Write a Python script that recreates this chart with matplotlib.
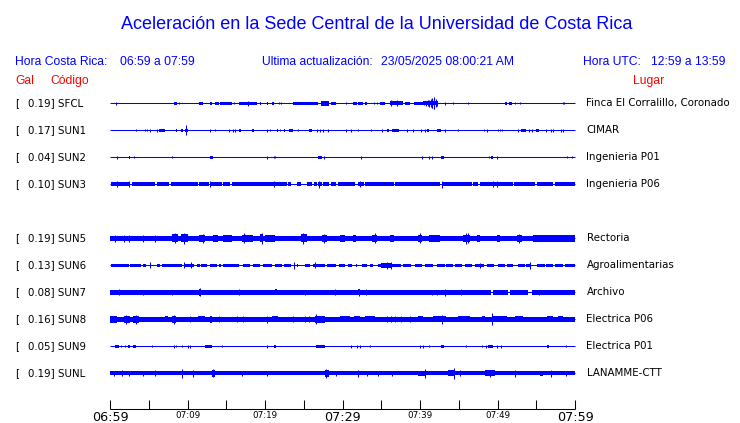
import matplotlib
matplotlib.use("Agg")
import matplotlib.pyplot as plt

W, H = 740, 423
BLUE = "#0000ff"

# window: 06:59 to 07:59 (minutes from start)
tick_minutes = list(range(0, 61, 5))
tick_labels = {0: "06:59", 10: "07:09", 20: "07:19", 30: "07:29",
               40: "07:39", 50: "07:49", 60: "07:59"}
big_labels = ["06:59", "07:29", "07:59"]

codes = ["SFCL", "SUN1", "SUN2", "SUN3", None, "SUN5", "SUN6", "SUN7", "SUN8", "SUN9", "SUNL"]
gal = [0.19, 0.17, 0.04, 0.10, None, 0.19, 0.13, 0.08, 0.16, 0.05, 0.19]
places = ["Finca El Corralillo, Coronado", "CIMAR", "Ingenieria P01", "Ingenieria P06", None,
          "Rectoria", "Agroalimentarias", "Archivo", "Electrica P06", "Electrica P01", "LANAMME-CTT"]

# activity: segments (t0, t1, half-amplitude px), spikes (t, half-amplitude px)
sfcl_segs = [(8.3, 8.6, 1.5), (11.5, 12.0, 1.5), (12.9, 13.1, 1.5), (13.5, 14.1, 1.5), (14.2, 15.7, 1.5),
             (16.6, 19.0, 1.5), (19.3, 19.45, 1.5), (20.2, 20.4, 1.5), (20.9, 21.1, 1.5), (23.6, 26.8, 1.5),
             (27.2, 28.3, 2.5), (28.5, 29.2, 1.5), (31.4, 31.9, 1.5), (32.0, 32.6, 1.2), (32.9, 33.2, 1.5),
             (34.9, 35.5, 1.5), (36.1, 37.8, 2.0), (38.1, 38.7, 1.5), (39.2, 40.4, 1.5), (40.4, 42.3, 2.0),
             (51.0, 51.2, 1.5), (51.5, 51.9, 1.5)]
sfcl_spikes = [(0.73, 1.5), (8.9, 1.0), (16.0, 1.0), (17.8, 2.5), (21.8, 1.0), (22.1, 1.0), (30.5, 1.0),
               (34.0, 1.0), (34.4, 1.0), (36.3, 3.0), (37.0, 3.0), (40.5, 2.0), (40.8, 2.5), (41.0, 3.0),
               (41.2, 3.5), (41.4, 4.0), (41.5, 4.5), (41.6, 5.0), (41.75, 6.0), (41.85, 5.5), (42.0, 4.0),
               (42.2, 2.5), (43.2, 1.5), (44.3, 1.0), (46.2, 1.0), (52.3, 1.0), (52.9, 1.0), (58.4, 1.0),
               (58.6, 1.0)]

sun1_segs = [(6.3, 7.1, 1.5), (8.5, 8.7, 1.5), (9.2, 9.4, 1.5), (9.7, 10.1, 1.5), (16.6, 16.9, 1.5),
             (18.3, 18.6, 1.5), (21.5, 21.7, 1.5), (22.4, 22.6, 1.5), (23.1, 23.6, 1.5), (25.7, 26.1, 1.5),
             (35.7, 36.0, 1.5), (36.4, 37.3, 1.5), (40.9, 41.2, 1.5), (42.2, 42.7, 1.5), (53.0, 53.7, 1.5),
             (55.0, 55.4, 1.5)]
sun1_spikes = [(3.35, 1), (4.5, 1), (4.8, 1), (5.2, 1.5), (6.0, 1.5), (9.85, 5), (12.9, 1.5), (13.6, 1),
               (15.3, 1.5), (15.9, 1.5), (16.1, 1.5), (20.2, 1.5), (20.7, 1), (21.9, 1), (24.2, 1),
               (26.7, 1.5), (27.1, 1.5), (27.5, 1.5), (28.1, 1.5), (30.5, 1.5), (31.05, 1.5), (32.0, 1),
               (33.7, 1), (35.1, 1.5), (38.3, 1.5), (39.1, 1.5), (40.1, 1.5), (40.6, 1.5), (43.2, 1.5),
               (44.9, 1), (48.2, 1), (48.7, 1.5), (50.0, 1), (50.3, 1), (50.6, 1), (52.7, 1.5), (54.0, 1.5),
               (54.4, 1.5), (56.3, 1.5), (56.9, 1.5), (57.2, 1.5), (58.2, 1.5), (58.4, 1.5)]

sun2_segs = [(2.4, 2.55, 1.5), (12.9, 13.25, 1.5), (26.9, 27.4, 1.5), (42.7, 43.1, 1.5), (49.2, 49.4, 1.5)]
sun2_spikes = [(0.95, 1.5), (3.1, 1), (8.0, 1), (20.3, 1.5), (21.1, 1), (21.3, 1), (27.6, 1.5), (32.35, 1.5),
               (40.3, 1.5), (41.2, 1.5), (41.5, 1.5), (48.95, 1), (49.9, 1.5), (59.0, 1), (59.6, 1)]

sun3_segs = [(0.1, 2.6, 2.0), (2.8, 5.8, 2.0), (6.0, 7.6, 2.0), (7.9, 11.3, 2.0), (11.5, 12.8, 2.0),
             (13.0, 14.5, 2.0), (14.6, 15.5, 2.0), (15.7, 22.8, 2.0), (23.0, 23.4, 2.0), (24.1, 24.7, 2.0),
             (25.4, 26.0, 2.0), (26.3, 26.7, 2.0), (26.9, 27.3, 2.0), (27.5, 28.2, 2.0), (28.5, 29.1, 2.0),
             (29.4, 31.6, 2.0), (32.0, 32.8, 2.0), (32.9, 36.6, 2.0), (36.8, 42.6, 2.0), (43.0, 46.7, 2.0),
             (46.9, 47.5, 2.0), (47.7, 52.0, 2.0), (52.1, 54.8, 2.0), (55.1, 57.2, 2.0), (57.4, 60.0, 2.0)]
sun3_spikes = [(0.9, 3), (2.4, 3), (12.95, 3), (21.1, 3), (27.0, 3.5), (32.3, 3), (42.8, 3.5), (49.4, 3),
               (49.9, 3)]

sun5_segs = [(0, 60, 2.6), (8.0, 8.8, 4.0), (9.2, 10.1, 4.0), (11.5, 12.3, 3.5), (13.3, 14.0, 3.5),
             (14.6, 15.7, 3.5), (17.0, 18.5, 3.5), (19.4, 19.8, 4.0), (20.0, 21.3, 3.5), (24.7, 25.4, 4.0),
             (27.3, 27.95, 3.5), (29.7, 30.3, 3.5), (31.4, 31.8, 3.5), (33.8, 34.4, 3.5), (36.1, 36.6, 3.5),
             (39.8, 40.2, 3.5), (41.2, 42.6, 3.5), (45.6, 46.5, 3.5), (47.4, 47.8, 3.5), (49.9, 50.3, 3.5),
             (52.5, 53.1, 3.5), (54.6, 60, 3.2)]
sun5_spikes = [(0.7, 3.5), (1.8, 3.5), (2.4, 3.5), (4.3, 3.5), (5.8, 3.5), (8.4, 5), (9.6, 5.5), (12.0, 4.5),
               (17.3, 5), (19.6, 5.5), (24.9, 5.5), (27.6, 4.5), (34.2, 5), (40.0, 5), (45.9, 5.5),
               (46.2, 5), (52.8, 4.5)]

sun6_segs = [(0.1, 2.4, 1.8), (2.6, 4.0, 1.8), (4.3, 4.7, 1.8), (6.0, 6.5, 1.8), (6.7, 9.25, 1.8),
             (9.6, 10.8, 1.8), (11.2, 11.6, 1.8), (11.8, 12.5, 1.8), (12.9, 13.8, 1.8), (14.1, 14.3, 1.8),
             (14.6, 16.6, 1.8), (17.2, 18.1, 1.8), (18.5, 19.35, 1.8), (19.8, 20.9, 1.8), (21.3, 22.2, 1.8),
             (22.4, 23.4, 1.8), (24.1, 24.3, 1.8), (25.2, 25.8, 1.8), (26.2, 27.7, 1.8), (28.0, 29.2, 1.8),
             (29.5, 30.3, 1.8), (30.75, 31.2, 1.8), (31.7, 31.9, 1.8), (32.5, 33.1, 1.8), (33.6, 33.9, 1.8),
             (34.6, 35.3, 1.8), (35.0, 36.3, 2.5), (35.6, 37.5, 1.8), (37.85, 38.9, 1.8), (39.35, 40.2, 1.8),
             (40.6, 41.7, 1.8), (42.15, 43.2, 1.8), (43.4, 44.3, 1.8), (44.5, 45.4, 1.8), (45.8, 46.7, 1.8),
             (47.1, 48.2, 1.8), (48.6, 49.5, 1.8), (50.1, 51.0, 1.8), (51.2, 52.0, 1.8), (52.7, 53.5, 1.8),
             (53.7, 54.3, 1.8), (55.05, 56.1, 1.8), (56.3, 57.2, 1.8), (57.4, 58.5, 1.8), (58.7, 60.0, 1.8)]
sun6_spikes = [(5.2, 3), (9.6, 3), (10.4, 3), (23.7, 3.5), (26.5, 3), (35.7, 3.5), (36.2, 3.5), (47.7, 2.5),
               (54.2, 3.5)]

sun7_segs = [(0, 49.1, 2.1), (49.4, 51.4, 2.1), (51.6, 53.9, 2.1), (54.5, 60, 2.1), (11.5, 11.8, 3.5),
             (21.3, 21.5, 3.0), (32.0, 32.3, 3.0)]
sun7_spikes = [(1.2, 3), (4.2, 2.5), (8.0, 2.5), (11.6, 4), (16.65, 3), (25.1, 2.5), (29.0, 3), (32.1, 3.5),
               (33.0, 3), (41.6, 2.5), (42.15, 2.5), (43.2, 3.5), (45.25, 3), (55.4, 2.5)]

sun8_segs = [(0, 60, 2.1), (0, 0.85, 3.5), (1.8, 2.6, 3.5), (3.0, 3.8, 3.5), (7.1, 7.5, 3), (7.95, 8.5, 3.5),
             (11.4, 12.3, 3), (12.9, 13.2, 3.5), (20.9, 21.7, 3), (26.45, 27.7, 3.5), (28.4, 30.3, 2.5),
             (29.7, 31.0, 3), (31.5, 32.3, 3), (32.9, 34.2, 3), (39.8, 40.4, 3), (41.7, 43.4, 3),
             (44.9, 46.4, 3), (48.0, 48.4, 3), (49.25, 51.2, 3), (52.3, 53.3, 3), (56.35, 57.2, 3),
             (57.85, 58.5, 3)]
sun8_spikes = [(2.1, 4.5), (3.4, 4.5), (8.2, 4.5), (10.3, 3), (14.0, 3), (16.4, 3), (17.2, 3), (20.2, 3.5),
               (23.65, 3), (25.1, 3), (25.7, 3), (26.6, 5), (35.7, 3), (36.3, 3), (36.8, 3), (37.6, 3),
               (38.7, 3), (42.8, 4.5), (49.3, 6)]

sun9_segs = [(0.7, 1.1, 1.5), (2.3, 2.6, 1.5), (3.0, 3.4, 1.5), (12.2, 13.2, 1.5), (21.1, 21.4, 1.2),
             (26.6, 27.7, 1.5), (42.7, 43.1, 1.5), (48.8, 49.45, 1.5), (56.35, 56.7, 1.5)]
sun9_spikes = [(1.4, 1), (1.9, 1), (5.4, 1), (8.2, 1.5), (8.5, 1), (9.25, 1), (10.0, 1.5), (10.3, 1.5),
               (14.4, 1), (20.3, 1.5), (31.05, 1.5), (31.9, 1.5), (32.3, 1.5), (33.5, 1), (40.0, 1.5),
               (40.35, 1.5), (41.2, 1), (45.9, 1), (47.95, 1), (48.5, 1.5), (49.9, 1.5), (50.5, 1.5),
               (58.9, 1)]

sunl_segs = [(0, 60, 2.0), (13.1, 13.55, 3.5), (27.75, 28.2, 3.5), (39.8, 40.65, 2.5), (43.65, 44.5, 3),
             (48.4, 49.7, 3), (55.5, 55.9, 2.5)]
sunl_spikes = [(0.5, 2.5), (1.5, 3), (2.4, 2.5), (4.3, 2.5), (5.8, 3), (9.3, 4.5), (10.75, 3.5), (13.3, 4),
               (17.0, 2.5), (20.2, 2.5), (27.9, 4.5), (29.2, 2.5), (32.0, 3.5), (33.1, 2.5), (34.6, 2.5),
               (36.35, 2.5), (40.6, 4.5), (44.4, 5.5), (45.2, 3), (49.0, 3.5), (52.3, 3.5), (56.9, 3.5),
               (58.9, 2.5)]

activity = {
    "SFCL": (sfcl_segs, sfcl_spikes), "SUN1": (sun1_segs, sun1_spikes), "SUN2": (sun2_segs, sun2_spikes),
    "SUN3": (sun3_segs, sun3_spikes), "SUN5": (sun5_segs, sun5_spikes), "SUN6": (sun6_segs, sun6_spikes),
    "SUN7": (sun7_segs, sun7_spikes), "SUN8": (sun8_segs, sun8_spikes), "SUN9": (sun9_segs, sun9_spikes),
    "SUNL": (sunl_segs, sunl_spikes),
}

# layout (pixels, y counted from the top; rows sit on pixel centres)
X0, PX_MIN = 110, 465 / 60
ROW0, ROW_STEP = 103.5, 27
AXIS_Y = 409.5

fig = plt.figure(figsize=(W / 100, H / 100), dpi=100)
ax = fig.add_axes([0, 0, 1, 1])
ax.set_xlim(-X0 / PX_MIN, (W - X0) / PX_MIN)
ax.set_ylim(H, 0)
ax.axis("off")


def ftext(x, y, s, **kw):
    fig.text(x / W, 1 - y / H, s, **kw)


hdr = dict(family="Liberation Sans", color=BLUE, fontsize=8.7, va="baseline")
ftext(377, 29, "Aceleración en la Sede Central de la Universidad de Costa Rica",
      family="Liberation Sans", color=BLUE, fontsize=13, ha="center", va="baseline")
ftext(15, 65, "Hora Costa Rica:", **hdr)
ftext(120, 65, "06:59 a 07:59", **hdr)
ftext(262, 65, "Ultima actualización:", **hdr)
ftext(381, 65, "23/05/2025 08:00:21 AM", **hdr)
ftext(583, 65, "Hora UTC:", **hdr)
ftext(651, 65, "12:59 a 13:59", **hdr)
red = dict(family="Liberation Sans", color="red", fontsize=8.7, va="baseline")
ftext(15, 84.3, "Gal", **red)
ftext(50, 84.3, "Código", **red)
ftext(633, 84.3, "Lugar", **red)

lab = dict(family="DejaVu Sans", color="black", fontsize=7.4, va="baseline")
for i, code in enumerate(codes):
    if code is None:
        continue
    y = ROW0 + i * ROW_STEP
    ftext(15, y + 2.3, "[", **lab)
    ftext(27.5, y + 2.3, f"{gal[i]:.2f}] {code}", **lab)
    ftext(586.5, y + 2.3, places[i], **lab)

    segs, spikes = activity[code]
    ax.hlines(y, 0, 60, color=BLUE, lw=0.75)
    if segs:
        t0 = [s[0] for s in segs]
        t1 = [s[1] for s in segs]
        a = [s[2] for s in segs]
        ax.bar(t0, [2 * v for v in a], width=[b - c for b, c in zip(t1, t0)],
               bottom=[y - v for v in a], align="edge", color=BLUE, linewidth=0,
               antialiased=False)
    if spikes:
        ts = [s[0] for s in spikes]
        a = [s[1] for s in spikes]
        ax.vlines(ts, [y - v for v in a], [y + v for v in a], color=BLUE, lw=0.75)

# time axis
ax.hlines(AXIS_Y, 0, 60, color="black", lw=0.75)
ax.vlines(tick_minutes, AXIS_Y - 9, AXIS_Y, color="black", lw=0.75)
for m, s in tick_labels.items():
    if s in big_labels:
        ax.text(m, 421, s, fontsize=9.2, family="DejaVu Sans", ha="center", va="baseline")
    else:
        ax.text(m, 418.3, s, fontsize=6.3, family="DejaVu Sans", ha="center", va="baseline")

fig.savefig("out.png", dpi=100, facecolor="white")
